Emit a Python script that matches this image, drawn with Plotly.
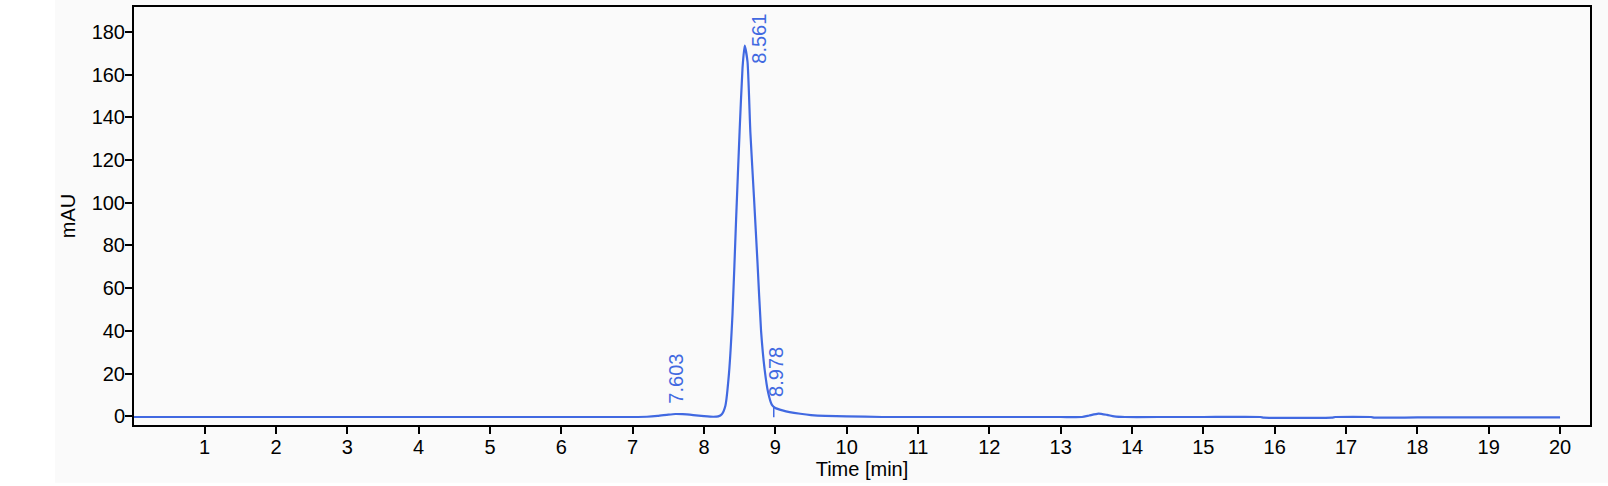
import plotly.graph_objects as go

# chromatogram trace
time_min = [0.0, 2.0, 4.0, 6.0, 7.0, 7.2, 7.35, 7.5, 7.6, 7.7, 7.85, 8.0, 8.13, 8.2,
            8.25, 8.3, 8.35, 8.4, 8.45, 8.5, 8.54, 8.57, 8.61, 8.65, 8.7, 8.75, 8.8,
            8.85, 8.9, 8.95, 9.0, 9.1, 9.2, 9.35, 9.5, 9.7, 10.0, 10.5, 11.0, 12.0,
            13.0, 13.3, 13.4, 13.53, 13.65, 13.75, 13.9, 14.5, 15.0, 15.8, 15.85,
            16.8, 16.85, 17.35, 17.4, 18.0, 19.0, 20.0]
mau = [-0.3, -0.3, -0.3, -0.3, -0.3, -0.2, 0.2, 0.8, 1.1, 1.0, 0.6, 0.1, -0.2, 0.0,
       1.0, 5.0, 20.0, 48.0, 92.0, 134.0, 163.0, 173.5, 166.0, 133.0, 103.0, 72.0, 40.0,
       22.0, 11.0, 5.5, 3.9, 2.8, 2.0, 1.2, 0.6, 0.2, 0.0, -0.3, -0.3, -0.3,
       -0.3, -0.3, 0.4, 1.3, 0.7, 0.0, -0.3, -0.3, -0.3, -0.3, -0.6,
       -0.6, -0.3, -0.3, -0.6, -0.5, -0.5, -0.5]

# labelled peaks
peak_times = [7.603, 8.561, 8.978]
peak_heights = [1.1, 173.5, 4.3]
peak_labels = ['7.603', '8.561', '8.978']

# drop line under the 8.978 shoulder
drop_x = [8.978, 8.978]
drop_y = [-0.4, 4.4]

x_ticks = list(range(1, 21))
y_ticks = list(range(0, 181, 20))

BLUE = '#4169E1'
FONT = 'Liberation Sans, Arial, sans-serif'
FS = 20

fig = go.Figure()
fig.add_trace(go.Scatter(x=time_min, y=mau, mode='lines',
                         line=dict(color=BLUE, width=2.2, shape='spline', smoothing=0.5),
                         showlegend=False, hoverinfo='x+y'))
fig.add_trace(go.Scatter(x=drop_x, y=drop_y, mode='lines',
                         line=dict(color=BLUE, width=1.5), showlegend=False,
                         hoverinfo='skip'))

# label offsets in px (x, y)
offsets = [(0, 8), (15, -20), (2, 8)]
for t, h, lab, (dx, dy) in zip(peak_times, peak_heights, peak_labels, offsets):
    fig.add_annotation(x=t, y=h, text=lab, showarrow=False, textangle=-90,
                       xanchor='center', yanchor='bottom', xshift=dx, yshift=dy,
                       font=dict(color=BLUE, size=FS, family=FONT))

# light grey panel behind everything, white strip at far left
fig.add_shape(type='rect', xref='paper', yref='paper', x0=-0.0543, x1=1.02, y0=-0.138, y1=1.02,
              fillcolor='#fafafa', line=dict(width=0), layer='below')

axis_style = dict(showline=True, mirror=True, linecolor='black', linewidth=2,
                  ticks='outside', ticklen=7, tickwidth=2, tickcolor='black',
                  showgrid=False, zeroline=False, ticklabelstandoff=-4,
                  tickfont=dict(size=FS, color='black', family=FONT))

fig.update_layout(
    width=1608, height=486,
    margin=dict(l=134, r=18, t=5, b=61),
    paper_bgcolor='white', plot_bgcolor='#fdfdfd',
    font=dict(family=FONT, size=FS, color='black'),
    xaxis=dict(range=[0.01, 20.42], tickvals=x_ticks,
               title=dict(text='Time [min]', standoff=4, font=dict(size=FS)), **axis_style),
    yaxis=dict(range=[-4.05, 191.6], tickvals=y_ticks,
               title=dict(text='mAU', standoff=11, font=dict(size=FS)), **axis_style),
)

# drop the browser's default body margin so the figure sits at the page corner
fig.write_html('out.html', config={'displayModeBar': False},
               post_script="document.body.style.margin='0px';")
